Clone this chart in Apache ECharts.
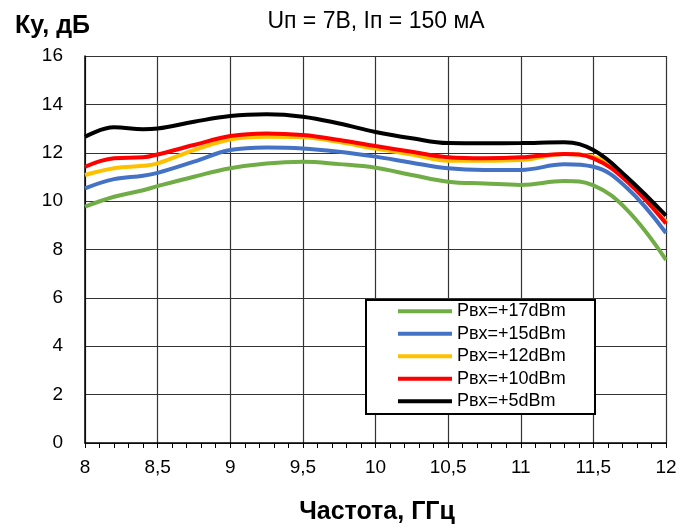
<!DOCTYPE html>
<html>
<head>
<meta charset="utf-8">
<script src="https://cdn.jsdelivr.net/npm/echarts@6/dist/echarts.min.js"></script>
<style>html,body{margin:0;padding:0;background:#fff}#c{width:694px;height:528px}</style>
</head>
<body>
<div id="c"></div>
<script>
var freq = [8, 8.2, 8.4, 8.5, 8.75, 9, 9.25, 9.5, 9.75, 10, 10.25, 10.5, 10.75, 11, 11.3, 11.5, 11.73, 12];
var p17 = [9.77, 10.18, 10.45, 10.62, 11.01, 11.36, 11.56, 11.63, 11.53, 11.38, 11.08, 10.80, 10.73, 10.67, 10.83, 10.65, 9.65, 7.57];
var p15 = [10.53, 10.91, 11.05, 11.17, 11.63, 12.11, 12.22, 12.18, 12.04, 11.84, 11.59, 11.36, 11.29, 11.29, 11.52, 11.42, 10.55, 8.68];
var p12 = [11.08, 11.36, 11.46, 11.56, 12.11, 12.55, 12.66, 12.64, 12.44, 12.17, 11.93, 11.67, 11.67, 11.70, 11.95, 11.84, 10.90, 9.15];
var p10 = [11.42, 11.77, 11.81, 11.93, 12.32, 12.69, 12.80, 12.73, 12.53, 12.28, 12.04, 11.81, 11.77, 11.81, 11.95, 11.77, 10.82, 9.08];
var p5  = [12.66, 13.05, 12.97, 13.00, 13.28, 13.52, 13.59, 13.49, 13.21, 12.86, 12.60, 12.40, 12.39, 12.40, 12.43, 12.11, 11.00, 9.40];
var seriesNames = ['Рвх=+17dBm', 'Рвх=+15dBm', 'Рвх=+12dBm', 'Рвх=+10dBm', 'Рвх=+5dBm'];
var seriesData = [p17, p15, p12, p10, p5];
var colors = ['#70AD47', '#4472C4', '#FFC000', '#FF0000', '#000000'];
var title = 'Uп = 7В, Iп = 150 мА';
var yName = 'Ку, дБ';
var xName = 'Частота, ГГц';

var REG = '"Liberation Sans", Arial, sans-serif';

var chart = echarts.init(document.getElementById('c'));
var series = seriesData.map(function (vals, i) {
  return {
    name: seriesNames[i],
    type: 'line',
    data: freq.map(function (f, j) { return [f, vals[j]]; }),
    smooth: 0.4,
    symbol: 'none',
    lineStyle: { color: colors[i], width: 4 },
    itemStyle: { color: colors[i] },
    z: 2 + i
  };
});

chart.setOption({
  animation: false,
  backgroundColor: '#fff',
  grid: { left: 85, top: 56, right: 28, bottom: 85, containLabel: false },
  xAxis: {
    type: 'value', min: 8, max: 12, interval: 0.5,
    axisLine: { show: true, onZero: false, lineStyle: { color: '#000', width: 1.5 } },
    axisTick: { show: true, inside: false, length: 5, lineStyle: { color: '#000' } },
    minorTick: { show: true, splitNumber: 5, length: 5, lineStyle: { color: '#000' } },
    splitLine: { show: true, lineStyle: { color: '#333', width: 1.2 } },
    axisLabel: {
      margin: 15, color: '#000', fontFamily: REG, fontSize: 19,
      formatter: function (v) { return String(v).replace('.', ','); }
    }
  },
  yAxis: {
    type: 'value', min: 0, max: 16, interval: 2,
    axisLine: { show: true, onZero: false, lineStyle: { color: '#000', width: 1.5 } },
    axisTick: { show: false },
    splitLine: { show: true, lineStyle: { color: '#333', width: 1.2 } },
    axisLabel: { margin: 22, color: '#000', fontFamily: REG, fontSize: 19 }
  },
  legend: {
    orient: 'vertical', left: 398, top: 300, padding: 0, itemGap: 0,
    itemWidth: 54, itemHeight: 4, icon: 'rect', z: 10,
    data: seriesNames,
    textStyle: { fontFamily: REG, fontSize: 18, color: '#000', lineHeight: 22.5 }
  },
  graphic: [
    { type: 'rect', z: 5, shape: { x: 366, y: 300, width: 229, height: 114 },
      style: { fill: '#fff', stroke: '#000', lineWidth: 2 } },
    { type: 'text', x: 376, y: 22, z: 10,
      style: { text: title, font: '23px ' + REG, fill: '#000', textAlign: 'center', textVerticalAlign: 'middle' } },
    { type: 'text', x: 15, y: 26, z: 10,
      style: { text: yName, font: 'bold 25px ' + REG, fill: '#000', textAlign: 'left', textVerticalAlign: 'middle' } },
    { type: 'text', x: 377, y: 512, z: 10,
      style: { text: xName, font: 'bold 25px ' + REG, fill: '#000', textAlign: 'center', textVerticalAlign: 'middle' } }
  ],
  series: series
});
</script>
</body>
</html>
